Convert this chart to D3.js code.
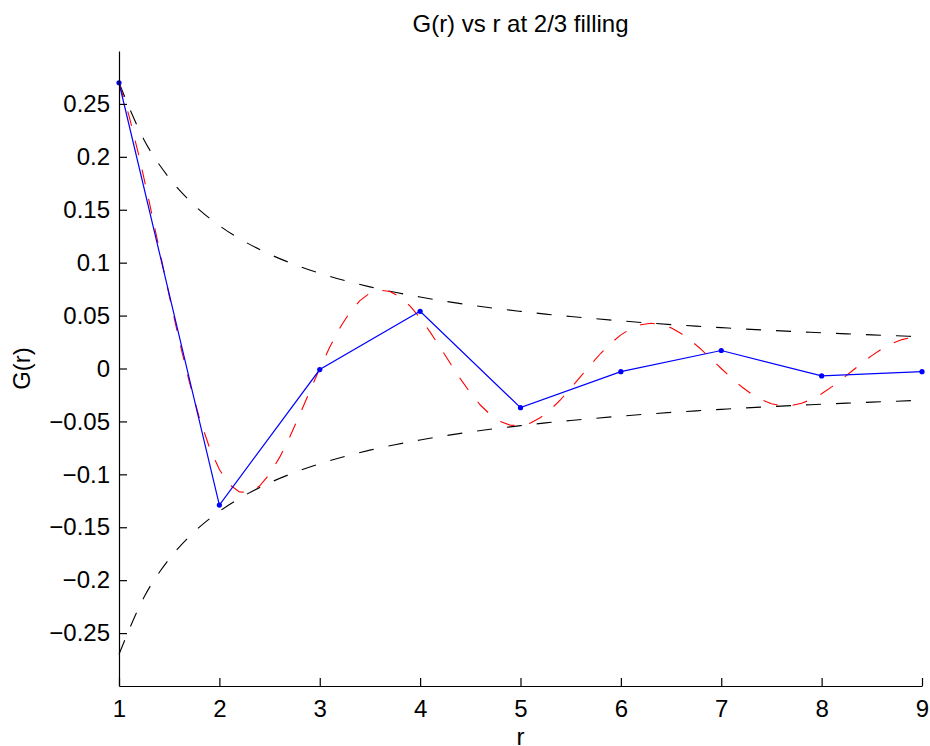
<!DOCTYPE html>
<html>
<head>
<meta charset="utf-8">
<script src="https://cdn.jsdelivr.net/npm/d3@7"></script>
<style>
  html, body { margin: 0; padding: 0; background: #fff; }
  svg { display: block; font-family: "Liberation Sans", Arial, Helvetica, sans-serif; }
</style>
</head>
<body>
<svg id="chart" width="930" height="746"></svg>
<script>
// Measured correlation G(r) at integer separations
const rPoints = [1, 2, 3, 4, 5, 6, 7, 8, 9];
const gMeasured = [0.270, -0.129, -0.001, 0.054, -0.037, -0.003, 0.017, -0.007, -0.003];

// Oscillating reference curve, sampled every 0.1 in r
const rFine = d3.range(10, 91).map(v => v / 10);
const gOscillating = [
  0.2700, 0.2387, 0.2005, 0.1579, 0.1134, 0.0689, 0.0264, -0.0125, -0.0464, -0.0743,
  -0.0955, -0.1096, -0.1167, -0.1170, -0.1111, -0.0998, -0.0840, -0.0649, -0.0438, -0.0217,
  0.0000, 0.0203, 0.0383, 0.0531, 0.0642, 0.0713, 0.0741, 0.0727, 0.0676, 0.0590,
  0.0477, 0.0344, 0.0199, 0.0049, -0.0096, -0.0230, -0.0345, -0.0437, -0.0501, -0.0536,
  -0.0540, -0.0515, -0.0463, -0.0387, -0.0294, -0.0188, -0.0075, 0.0037, 0.0144, 0.0239,
  0.0318, 0.0377, 0.0414, 0.0427, 0.0417, 0.0384, 0.0331, 0.0262, 0.0180, 0.0091,
  0.0000, -0.0089, -0.0170, -0.0240, -0.0295, -0.0333, -0.0351, -0.0350, -0.0329, -0.0291,
  -0.0239, -0.0174, -0.0102, -0.0026, 0.0050, 0.0122, 0.0185, 0.0236, 0.0273, 0.0295,
  0.0300
];

// Decay envelopes, sampled every 0.25 in r
const rEnvelope = d3.range(4, 37).map(v => v / 4);
const envelopeUpper = [
  0.2700, 0.2160, 0.1800, 0.1543, 0.1350, 0.1200, 0.1080, 0.0982, 0.0900, 0.0831,
  0.0771, 0.0720, 0.0675, 0.0635, 0.0600, 0.0568, 0.0540, 0.0514, 0.0491, 0.0470,
  0.0450, 0.0432, 0.0415, 0.0400, 0.0386, 0.0372, 0.0360, 0.0348, 0.0338, 0.0327,
  0.0318, 0.0309, 0.0300
];
const envelopeLower = [
  -0.2700, -0.2160, -0.1800, -0.1543, -0.1350, -0.1200, -0.1080, -0.0982, -0.0900, -0.0831,
  -0.0771, -0.0720, -0.0675, -0.0635, -0.0600, -0.0568, -0.0540, -0.0514, -0.0491, -0.0470,
  -0.0450, -0.0432, -0.0415, -0.0400, -0.0386, -0.0372, -0.0360, -0.0348, -0.0338, -0.0327,
  -0.0318, -0.0309, -0.0300
];

// Axis ticks
const xTicks = [1, 2, 3, 4, 5, 6, 7, 8, 9];
const yTicks = [-0.25, -0.2, -0.15, -0.1, -0.05, 0, 0.05, 0.1, 0.15, 0.2, 0.25];
const yTickLabels = ["\u22120.25", "\u22120.2", "\u22120.15", "\u22120.1", "\u22120.05", "0",
                     "0.05", "0.1", "0.15", "0.2", "0.25"];

const titleText = "G(r) vs r at 2/3 filling";
const xLabelText = "r";
const yLabelText = "G(r)";

const svg = d3.select("#chart");
const plot = { left: 119, right: 922, top: 51, bottom: 686 };

const x = d3.scaleLinear().domain([1, 9]).range([plot.left, plot.right]);
const y = d3.scaleLinear().domain([-0.3, 0.3]).range([plot.bottom, plot.top]);

const fontSize = 24;

// Curves
const line = d3.line().x(d => x(d[0])).y(d => y(d[1]));
const smooth = d3.line().x(d => x(d[0])).y(d => y(d[1])).curve(d3.curveMonotoneX);

const curves = svg.append("g").attr("fill", "none");

curves.append("path")
  .datum(rEnvelope.map((r, i) => [r, envelopeUpper[i]]))
  .attr("d", smooth)
  .attr("stroke", "#000")
  .attr("stroke-width", 1.1)
  .attr("stroke-dasharray", "15,15");

curves.append("path")
  .datum(rEnvelope.map((r, i) => [r, envelopeLower[i]]))
  .attr("d", smooth)
  .attr("stroke", "#000")
  .attr("stroke-width", 1.1)
  .attr("stroke-dasharray", "15,15");

curves.append("path")
  .datum(rFine.map((r, i) => [r, gOscillating[i]]))
  .attr("d", line)
  .attr("stroke", "#ff0000")
  .attr("stroke-width", 1.1)
  .attr("stroke-dasharray", "15,15");

curves.append("path")
  .datum(rPoints.map((r, i) => [r, gMeasured[i]]))
  .attr("d", line)
  .attr("stroke", "#0000ff")
  .attr("stroke-width", 1.2);

svg.append("g")
  .selectAll("circle")
  .data(rPoints.map((r, i) => [r, gMeasured[i]]))
  .join("circle")
  .attr("cx", d => x(d[0]))
  .attr("cy", d => y(d[1]))
  .attr("r", 2.6)
  .attr("fill", "#0000ff");

// Axes with inward ticks
const xAxis = d3.axisBottom(x)
  .tickValues(xTicks)
  .tickFormat(d3.format("d"))
  .tickSizeInner(-8)
  .tickSizeOuter(0)
  .tickPadding(14);

const yAxis = d3.axisLeft(y)
  .tickValues(yTicks)
  .tickFormat((d, i) => yTickLabels[i])
  .tickSizeInner(-8)
  .tickSizeOuter(0)
  .tickPadding(9);

const gx = svg.append("g")
  .attr("transform", `translate(0,${plot.bottom})`)
  .call(xAxis);

const gy = svg.append("g")
  .attr("transform", `translate(${plot.left},0)`)
  .call(yAxis);

[gx, gy].forEach(g => {
  g.attr("font-family", null).attr("font-size", null);
  g.selectAll(".domain, .tick line").attr("stroke", "#000").attr("stroke-width", 1.2);
  g.selectAll(".tick text")
    .attr("fill", "#000")
    .style("font-size", fontSize + "px");
});
gx.selectAll(".tick text").attr("dy", "0.71em");

// Title and axis labels
svg.append("text")
  .attr("x", (plot.left + plot.right) / 2)
  .attr("y", 32)
  .attr("text-anchor", "middle")
  .style("font-size", fontSize + "px")
  .text(titleText);

svg.append("text")
  .attr("x", (plot.left + plot.right) / 2)
  .attr("y", 745)
  .attr("text-anchor", "middle")
  .style("font-size", fontSize + "px")
  .text(xLabelText);

svg.append("text")
  .attr("transform", `translate(30,${(plot.top + plot.bottom) / 2}) rotate(-90)`)
  .attr("text-anchor", "middle")
  .style("font-size", fontSize + "px")
  .text(yLabelText);
</script>
</body>
</html>
